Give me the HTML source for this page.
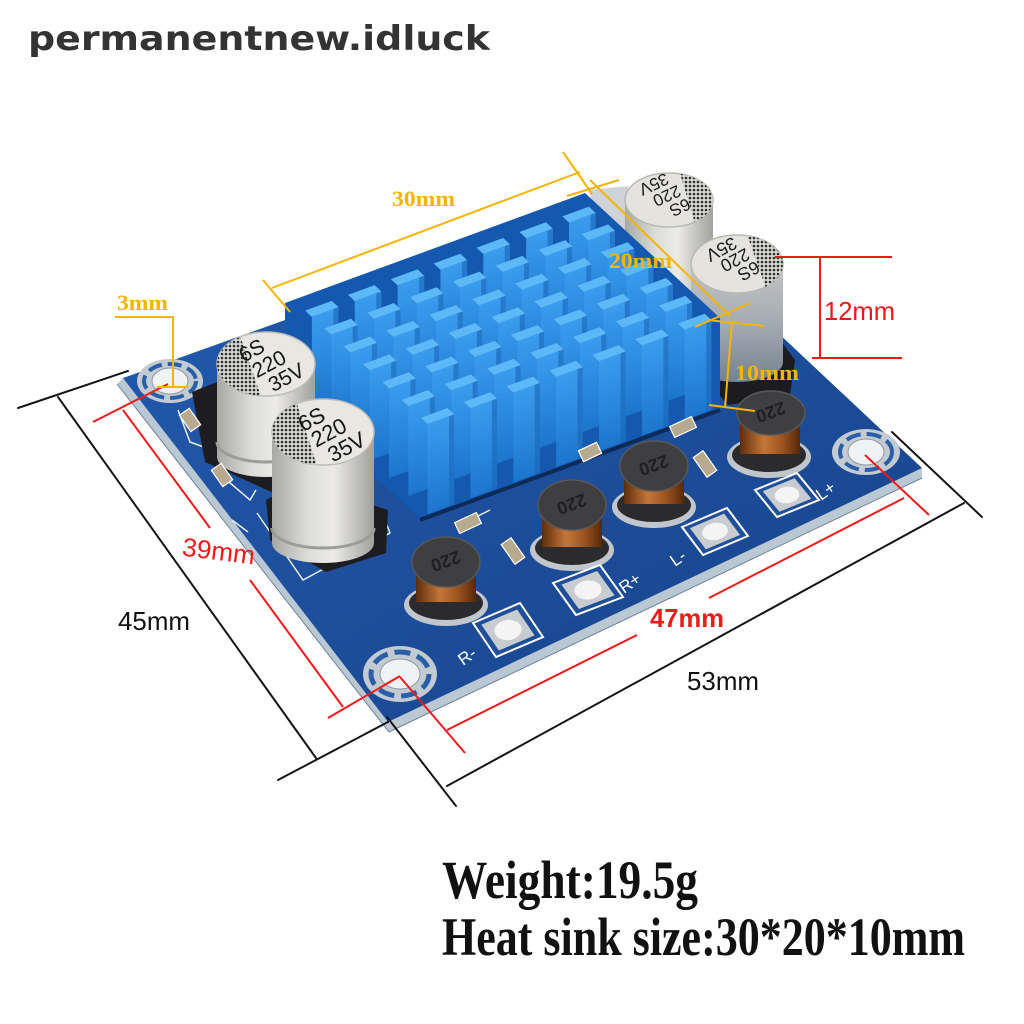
<!DOCTYPE html>
<html><head><meta charset="utf-8"><style>
html,body{margin:0;padding:0;background:#fff;}
svg{display:block;}
</style></head><body>
<svg width="1024" height="1024" viewBox="0 0 1024 1024" xmlns="http://www.w3.org/2000/svg">
<defs>
 <linearGradient id="board" x1="0" y1="0" x2="1" y2="1">
  <stop offset="0" stop-color="#235cb0"/><stop offset="0.5" stop-color="#1d4f9c"/><stop offset="1" stop-color="#18428a"/>
 </linearGradient>
 <linearGradient id="capbody" x1="0" y1="0" x2="1" y2="0">
  <stop offset="0" stop-color="#a8a8a4"/><stop offset="0.35" stop-color="#dcdcd8"/><stop offset="0.6" stop-color="#ecebe7"/><stop offset="1" stop-color="#a0a09c"/>
 </linearGradient>
 <linearGradient id="capbodyD" x1="0" y1="0" x2="0" y2="1">
  <stop offset="0" stop-color="#c4c6c7"/><stop offset="0.5" stop-color="#a4abb2"/><stop offset="1" stop-color="#76828e"/>
 </linearGradient>
 <linearGradient id="coil" x1="0" y1="0" x2="1" y2="0">
  <stop offset="0" stop-color="#5e2e0c"/><stop offset="0.4" stop-color="#c47638"/><stop offset="0.7" stop-color="#9c5420"/><stop offset="1" stop-color="#55280a"/>
 </linearGradient>
 <linearGradient id="fface" x1="0" y1="0" x2="0" y2="1">
  <stop offset="0" stop-color="#3a9cee"/><stop offset="1" stop-color="#1d76cc"/>
 </linearGradient>
 <pattern id="dots" width="4" height="4" patternUnits="userSpaceOnUse">
  <rect width="4" height="4" fill="#d6d6d2"/><circle cx="2" cy="2" r="1.3" fill="#2e2e2e"/>
 </pattern>
 <g id="fin">
  <polygon points="0,0.35 0.62,0.35 -1.005,3.96 -1.625,3.96" fill="url(#fface)"/>
  <polygon points="0.5,0.35 0.62,0.35 -1.005,3.96 -1.125,3.96" fill="#1a66b8" opacity="0.6"/>
  <polygon points="0,0 0.62,0 0.62,0.35 0,0.35" fill="#5cb8f6"/>
 </g>
 <clipPath id="cA"><ellipse cx="266" cy="364" rx="49" ry="32"/></clipPath>
 <clipPath id="cB"><ellipse cx="323" cy="432" rx="51" ry="33"/></clipPath>
 <clipPath id="cC"><ellipse cx="669" cy="200" rx="44" ry="27"/></clipPath>
 <clipPath id="cD"><ellipse cx="737" cy="264" rx="46" ry="29"/></clipPath>
</defs>

<rect width="1024" height="1024" fill="#ffffff"/>

<!-- watermark -->
<text x="28" y="50" font-family="'DejaVu Sans','Liberation Sans',sans-serif" font-weight="bold" font-size="34" fill="#333333" textLength="462" lengthAdjust="spacingAndGlyphs">permanentnew.idluck</text>

<!-- board edge (thickness) -->
<polygon points="123,378 388,722 922,468 922,478 389,732 117,384" fill="#bac8d3"/>
<polyline points="117,384 389,732 922,478" fill="none" stroke="#6f8294" stroke-width="1"/>
<!-- board top -->
<polygon points="123,378 632,196 922,468 388,722" fill="url(#board)"/>

<!-- silkscreen outlines -->
<g fill="none" stroke="#e8eef6" stroke-width="1.5">
 <polyline points="178,410 190,442 212,450"/>
 <polyline points="215,470 250,500 256,490"/>
 <polyline points="257,513 303,580 390,533 387,525"/>
 <polyline points="232,520 248,532"/>
 <polyline points="470,520 490,510"/>
</g>

<!-- holes -->
<g>
 <ellipse cx="170" cy="381" rx="33" ry="22" fill="#c3cad2"/>
 <ellipse cx="170" cy="381" rx="26" ry="17" fill="none" stroke="#2a5fa8" stroke-width="4" stroke-dasharray="14 6"/>
 <ellipse cx="170" cy="381" rx="18" ry="13" fill="#f1f2f4" stroke="#8e99a5" stroke-width="1"/>
 <ellipse cx="400" cy="674" rx="37" ry="28" fill="#c3cad2"/>
 <ellipse cx="400" cy="674" rx="29" ry="22" fill="none" stroke="#2a5fa8" stroke-width="5" stroke-dasharray="16 7"/>
 <ellipse cx="400" cy="674" rx="20" ry="15" fill="#f1f2f4" stroke="#8e99a5" stroke-width="1"/>
 <ellipse cx="866" cy="452" rx="34" ry="23" fill="#c3cad2"/>
 <ellipse cx="866" cy="452" rx="26" ry="18" fill="none" stroke="#2a5fa8" stroke-width="4" stroke-dasharray="15 6"/>
 <ellipse cx="866" cy="452" rx="18" ry="13" fill="#f1f2f4" stroke="#8e99a5" stroke-width="1"/>
</g>

<!-- black cap bases -->
<polygon points="192,392 222,380 322,420 320,478 276,494 205,462" fill="#1d1d21"/>
<polygon points="266,500 300,482 388,510 386,553 326,572 270,540" fill="#1d1d21"/>
<polygon points="712,350 775,333 795,360 790,395 728,405 708,382" fill="#1c1c20"/>

<!-- light patch behind heatsink corner -->
<polygon points="588,190 628,186 628,240 606,236" fill="#cfd3d8"/>

<!-- back caps C and D (behind heatsink) -->
<g>
 <path d="M625,200 L625,300 A44,27 0 0 0 713,300 L713,200 Z" fill="url(#capbody)"/>
 <ellipse cx="669" cy="200" rx="44" ry="27" fill="#e4e3de" stroke="#b9b9b4" stroke-width="1.5"/>
 <polygon points="676,160 730,160 730,240 700,240" fill="url(#dots)" clip-path="url(#cC)"/>
 <g transform="translate(667,196) rotate(155)" font-family="'Liberation Sans',sans-serif" font-size="17" fill="#1a1a1a" text-anchor="middle">
  <text x="-7" y="-10">6S</text><text x="0" y="6">220</text><text x="7" y="22">35V</text>
 </g>
 <path d="M691,264 L691,362 A46,20 0 0 0 783,362 L783,264 Z" fill="url(#capbodyD)"/>
 <ellipse cx="737" cy="264" rx="46" ry="29" fill="#e4e3de" stroke="#b9b9b4" stroke-width="1.5"/>
 <polygon points="742,220 800,220 800,300 770,300" fill="url(#dots)" clip-path="url(#cD)"/>
 <g transform="translate(735,260) rotate(152)" font-family="'Liberation Sans',sans-serif" font-size="18" fill="#1a1a1a" text-anchor="middle">
  <text x="-7" y="-10">6S</text><text x="0" y="6">220</text><text x="7" y="22">35V</text>
 </g>
</g>

<!-- heatsink -->
<polygon points="285,303 585,193 720,318 720,408 420,518 285,393" fill="#1558b0"/>
<g transform="matrix(42.86,-15.71,19.29,17.86,285,303)">
 <use href="#fin" x="0.2" y="0.6"/><use href="#fin" x="1.2" y="0.6"/><use href="#fin" x="2.2" y="0.6"/><use href="#fin" x="3.2" y="0.6"/><use href="#fin" x="4.2" y="0.6"/><use href="#fin" x="5.2" y="0.6"/><use href="#fin" x="6.2" y="0.6"/>
 <use href="#fin" x="0.2" y="1.6"/><use href="#fin" x="1.2" y="1.6"/><use href="#fin" x="2.2" y="1.6"/><use href="#fin" x="3.2" y="1.6"/><use href="#fin" x="4.2" y="1.6"/><use href="#fin" x="5.2" y="1.6"/><use href="#fin" x="6.2" y="1.6"/>
 <use href="#fin" x="0.2" y="2.6"/><use href="#fin" x="1.2" y="2.6"/><use href="#fin" x="2.2" y="2.6"/><use href="#fin" x="3.2" y="2.6"/><use href="#fin" x="4.2" y="2.6"/><use href="#fin" x="5.2" y="2.6"/><use href="#fin" x="6.2" y="2.6"/>
 <use href="#fin" x="0.2" y="3.6"/><use href="#fin" x="1.2" y="3.6"/><use href="#fin" x="2.2" y="3.6"/><use href="#fin" x="3.2" y="3.6"/><use href="#fin" x="4.2" y="3.6"/><use href="#fin" x="5.2" y="3.6"/><use href="#fin" x="6.2" y="3.6"/>
 <use href="#fin" x="0.2" y="4.6"/><use href="#fin" x="1.2" y="4.6"/><use href="#fin" x="2.2" y="4.6"/><use href="#fin" x="3.2" y="4.6"/><use href="#fin" x="4.2" y="4.6"/><use href="#fin" x="5.2" y="4.6"/><use href="#fin" x="6.2" y="4.6"/>
 <use href="#fin" x="0.2" y="5.6"/><use href="#fin" x="1.2" y="5.6"/><use href="#fin" x="2.2" y="5.6"/><use href="#fin" x="3.2" y="5.6"/><use href="#fin" x="4.2" y="5.6"/><use href="#fin" x="5.2" y="5.6"/><use href="#fin" x="6.2" y="5.6"/>
 <use href="#fin" x="0.2" y="6.6"/><use href="#fin" x="1.2" y="6.6"/><use href="#fin" x="2.2" y="6.6"/><use href="#fin" x="3.2" y="6.6"/><use href="#fin" x="4.2" y="6.6"/><use href="#fin" x="5.2" y="6.6"/><use href="#fin" x="6.2" y="6.6"/>
</g>
<line x1="420" y1="520" x2="720" y2="410" stroke="#0d2a58" stroke-width="4"/>

<!-- left caps A and B -->
<g>
 <path d="M217,364 L217,457 A49,20 0 0 0 315,457 L315,364 Z" fill="url(#capbody)"/>
 <path d="M217,442 A49,20 0 0 0 315,442" fill="none" stroke="#9c9c98" stroke-width="3"/>
 <ellipse cx="266" cy="364" rx="49" ry="32" fill="#e8e7e2" stroke="#bdbdb8" stroke-width="1.5"/>
 <polygon points="200,330 238,330 264,405 200,405" fill="url(#dots)" clip-path="url(#cA)"/>
 <g transform="translate(269,364) rotate(-28)" font-family="'Liberation Sans',sans-serif" font-size="21" fill="#151515" text-anchor="middle">
  <text x="-9" y="-13">6S</text><text x="0" y="7">220</text><text x="9" y="27">35V</text>
 </g>
 <path d="M272,432 L272,543 A51,20 0 0 0 374,543 L374,432 Z" fill="url(#capbody)"/>
 <path d="M272,528 A51,20 0 0 0 374,528" fill="none" stroke="#9c9c98" stroke-width="3"/>
 <ellipse cx="323" cy="432" rx="51" ry="33" fill="#e8e7e2" stroke="#bdbdb8" stroke-width="1.5"/>
 <polygon points="260,395 294,395 320,475 260,475" fill="url(#dots)" clip-path="url(#cB)"/>
 <g transform="translate(329,433) rotate(-28)" font-family="'Liberation Sans',sans-serif" font-size="22" fill="#151515" text-anchor="middle">
  <text x="-9" y="-13">6S</text><text x="0" y="7">220</text><text x="9" y="28">35V</text>
 </g>
</g>

<!-- SMD parts -->
<g stroke="#ffffff" stroke-width="1.2">
 <rect x="-12" y="-6" width="24" height="12" fill="#b8aa8e" transform="translate(468,523) rotate(-25)"/>
 <rect x="-12" y="-6" width="24" height="12" fill="#b8aa8e" transform="translate(513,551) rotate(55)"/>
 <rect x="-12" y="-6" width="24" height="12" fill="#b8aa8e" transform="translate(683,427) rotate(-25)"/>
 <rect x="-12" y="-6" width="24" height="12" fill="#b8aa8e" transform="translate(705,464) rotate(55)"/>
 <rect x="-10" y="-6" width="20" height="12" fill="#b8aa8e" transform="translate(190,420) rotate(55)"/>
 <rect x="-10" y="-6" width="20" height="12" fill="#b8aa8e" transform="translate(222,475) rotate(55)"/>
 <rect x="-10" y="-6" width="20" height="12" fill="#b8aa8e" transform="translate(590,452) rotate(-25)"/>
</g>

<!-- inductors -->
<g>
 <ellipse cx="446" cy="605" rx="42" ry="21" fill="#c0c6cc"/>
 <ellipse cx="446" cy="603" rx="37" ry="17" fill="#2b2b2d"/>
 <rect x="416" y="566" width="60" height="36" fill="url(#coil)"/>
 <ellipse cx="446" cy="562" rx="34" ry="25" fill="#3f3f42" stroke="#58585b" stroke-width="1.5"/>
 <text x="446" y="569" transform="rotate(160 446 562)" font-family="'Liberation Sans',sans-serif" font-weight="bold" font-size="18" fill="#202022" text-anchor="middle">220</text>

 <ellipse cx="572" cy="550" rx="42" ry="21" fill="#c0c6cc"/>
 <ellipse cx="572" cy="548" rx="37" ry="17" fill="#2b2b2d"/>
 <rect x="542" y="510" width="60" height="37" fill="url(#coil)"/>
 <ellipse cx="572" cy="505" rx="34" ry="25" fill="#3f3f42" stroke="#58585b" stroke-width="1.5"/>
 <text x="572" y="512" transform="rotate(160 572 505)" font-family="'Liberation Sans',sans-serif" font-weight="bold" font-size="18" fill="#202022" text-anchor="middle">220</text>

 <ellipse cx="654" cy="507" rx="42" ry="21" fill="#c0c6cc"/>
 <ellipse cx="654" cy="505" rx="37" ry="17" fill="#2b2b2d"/>
 <rect x="624" y="470" width="60" height="34" fill="url(#coil)"/>
 <ellipse cx="654" cy="466" rx="34" ry="25" fill="#3f3f42" stroke="#58585b" stroke-width="1.5"/>
 <text x="654" y="473" transform="rotate(160 654 466)" font-family="'Liberation Sans',sans-serif" font-weight="bold" font-size="18" fill="#202022" text-anchor="middle">220</text>

 <ellipse cx="769" cy="457" rx="42" ry="21" fill="#c0c6cc"/>
 <ellipse cx="769" cy="455" rx="37" ry="17" fill="#2b2b2d"/>
 <rect x="740" y="418" width="60" height="36" fill="url(#coil)"/>
 <ellipse cx="771" cy="413" rx="34" ry="22" fill="#3f3f42" stroke="#58585b" stroke-width="1.5"/>
 <text x="771" y="420" transform="rotate(160 771 413)" font-family="'Liberation Sans',sans-serif" font-weight="bold" font-size="18" fill="#202022" text-anchor="middle">220</text>
</g>

<!-- pads -->
<g>
 <g transform="matrix(47,-20,23,34,473,623)">
  <rect x="0" y="0" width="1" height="1" fill="#1f4f98" stroke="#ffffff" stroke-width="2" vector-effect="non-scaling-stroke"/>
  <rect x="0.12" y="0.12" width="0.76" height="0.76" fill="#c8ccd0"/>
  <ellipse cx="0.5" cy="0.5" rx="0.26" ry="0.26" fill="#f4f4f4"/>
 </g>
 <g transform="matrix(47,-18,23,32,553,583)">
  <rect x="0" y="0" width="1" height="1" fill="#1f4f98" stroke="#ffffff" stroke-width="2" vector-effect="non-scaling-stroke"/>
  <rect x="0.12" y="0.12" width="0.76" height="0.76" fill="#c8ccd0"/>
  <ellipse cx="0.5" cy="0.5" rx="0.26" ry="0.26" fill="#f4f4f4"/>
 </g>
 <g transform="matrix(45,-19,21,28,682,527)">
  <rect x="0" y="0" width="1" height="1" fill="#1f4f98" stroke="#ffffff" stroke-width="2" vector-effect="non-scaling-stroke"/>
  <rect x="0.12" y="0.12" width="0.76" height="0.76" fill="#c8ccd0"/>
  <ellipse cx="0.5" cy="0.5" rx="0.26" ry="0.26" fill="#f4f4f4"/>
 </g>
 <g transform="matrix(42,-17,22,27,755,490)">
  <rect x="0" y="0" width="1" height="1" fill="#1f4f98" stroke="#ffffff" stroke-width="2" vector-effect="non-scaling-stroke"/>
  <rect x="0.12" y="0.12" width="0.76" height="0.76" fill="#c8ccd0"/>
  <ellipse cx="0.5" cy="0.5" rx="0.26" ry="0.26" fill="#f4f4f4"/>
 </g>
 <g font-family="'Liberation Sans',sans-serif" font-size="17" fill="#ffffff">
  <text x="463" y="666" transform="rotate(-35 463 666)">R-</text>
  <text x="624" y="594" transform="rotate(-35 624 594)">R+</text>
  <text x="675" y="567" transform="rotate(-35 675 567)">L-</text>
  <text x="821" y="501" transform="rotate(-35 821 501)">L+</text>
 </g>
</g>

<!-- black dimension lines -->
<g stroke="#151515" stroke-width="2" fill="none" stroke-linecap="round">
 <line x1="18" y1="408" x2="128" y2="371"/>
 <line x1="58" y1="397" x2="316" y2="758"/>
 <line x1="278" y1="780" x2="388" y2="722"/>
 <line x1="387" y1="717" x2="456" y2="806"/>
 <line x1="447" y1="786" x2="964" y2="503"/>
 <line x1="892" y1="432" x2="982" y2="517"/>
</g>

<!-- red dimension lines -->
<g stroke="#f01a1a" stroke-width="2" fill="none">
 <line x1="93" y1="422" x2="168" y2="384"/>
 <line x1="123" y1="410" x2="210" y2="528"/>
 <line x1="250" y1="580" x2="343" y2="707"/>
 <line x1="328" y1="718" x2="400" y2="676"/>
 <line x1="400" y1="677" x2="465" y2="753"/>
 <line x1="447" y1="730" x2="637" y2="635"/>
 <line x1="709" y1="598" x2="904" y2="498"/>
 <line x1="865" y1="455" x2="929" y2="515"/>
 <line x1="775" y1="257" x2="892" y2="257"/>
 <line x1="812" y1="358" x2="902" y2="358"/>
 <line x1="820" y1="257" x2="820" y2="358"/>
</g>

<!-- yellow dimension lines -->
<g stroke="#f4b400" stroke-width="2" fill="none">
 <line x1="263" y1="280" x2="290" y2="312"/>
 <line x1="272" y1="288" x2="580" y2="172"/>
 <line x1="563" y1="152" x2="592" y2="194"/>
 <line x1="567" y1="196" x2="619" y2="180"/>
 <line x1="590" y1="180" x2="730" y2="316"/>
 <line x1="695" y1="327" x2="750" y2="303"/>
 <line x1="707" y1="320" x2="764" y2="326"/>
 <line x1="732" y1="322" x2="725" y2="408"/>
 <line x1="709" y1="405" x2="755" y2="411"/>
 <polyline points="115,317 173,317 173,387"/>
 <line x1="157" y1="387" x2="188" y2="387"/>
</g>

<!-- labels -->
<g font-family="'Liberation Serif',serif" font-weight="bold" font-size="22" fill="#f4b400">
 <text x="392" y="206" textLength="63" lengthAdjust="spacingAndGlyphs">30mm</text>
 <text x="609" y="268" textLength="63" lengthAdjust="spacingAndGlyphs">20mm</text>
 <text x="735" y="380" textLength="64" lengthAdjust="spacingAndGlyphs">10mm</text>
 <text x="117" y="310" textLength="51" lengthAdjust="spacingAndGlyphs">3mm</text>
</g>
<g font-family="'Liberation Sans',sans-serif" font-size="26">
 <text x="824" y="320" fill="#e81818" textLength="71" lengthAdjust="spacingAndGlyphs">12mm</text>
 <text x="118" y="630" fill="#111111" textLength="72" lengthAdjust="spacingAndGlyphs">45mm</text>
 <text x="687" y="690" fill="#111111" textLength="72" lengthAdjust="spacingAndGlyphs">53mm</text>
 <text x="182" y="560" fill="#f01a1a" transform="rotate(7 218 553)" textLength="73" lengthAdjust="spacingAndGlyphs">39mm</text>
 <text x="650" y="627" fill="#f01a1a" font-weight="bold" textLength="74" lengthAdjust="spacingAndGlyphs">47mm</text>
</g>

<!-- bottom text -->
<g font-family="'Liberation Serif',serif" font-weight="bold" font-size="54" fill="#111111">
 <text x="442" y="898" textLength="256" lengthAdjust="spacingAndGlyphs">Weight:19.5g</text>
 <text x="442" y="955" textLength="523" lengthAdjust="spacingAndGlyphs">Heat sink size:30*20*10mm</text>
</g>
</svg>
</body></html>
